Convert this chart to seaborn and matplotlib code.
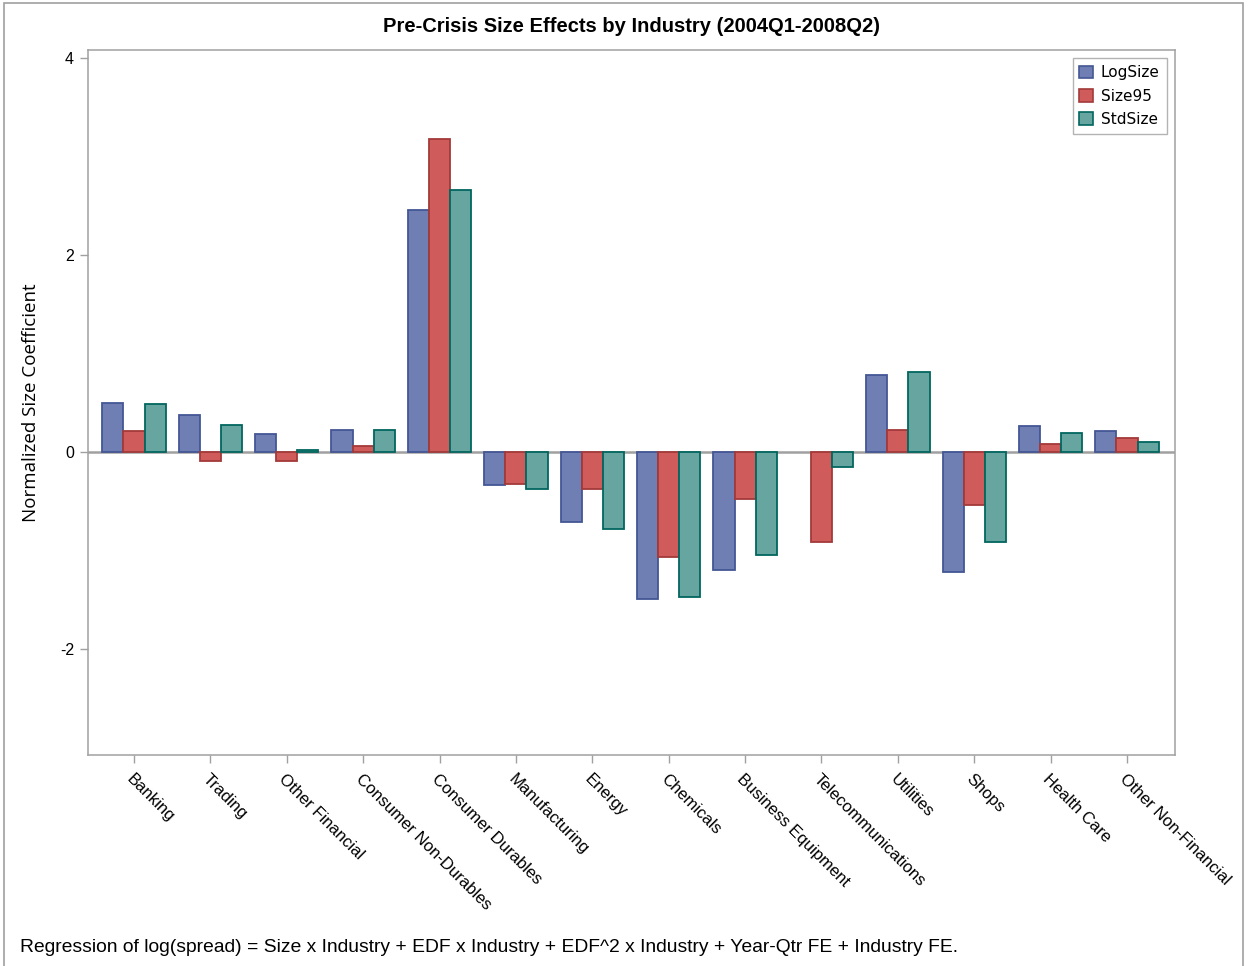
import numpy as np
import pandas as pd
import matplotlib
matplotlib.use("Agg")
import matplotlib.pyplot as plt
from matplotlib.patches import Patch, Rectangle
import seaborn as sns

# Industry size coefficients, 2004Q1-2008Q2
industries = ["Banking", "Trading", "Other Financial", "Consumer Non-Durables",
              "Consumer Durables", "Manufacturing", "Energy", "Chemicals",
              "Business Equipment", "Telecommunications", "Utilities", "Shops",
              "Health Care", "Other Non-Financial"]
log_size = [0.50, 0.37, 0.18, 0.22, 2.46, -0.34, -0.71, -1.50, -1.20, np.nan,
            0.78, -1.22, 0.26, 0.21]
size95 = [0.21, -0.09, -0.09, 0.06, 3.18, -0.33, -0.38, -1.07, -0.48, -0.92,
          0.22, -0.54, 0.08, 0.14]
std_size = [0.48, 0.27, 0.015, 0.22, 2.66, -0.38, -0.78, -1.48, -1.05, -0.15,
            0.81, -0.92, 0.19, 0.10]
series = ["LogSize", "Size95", "StdSize"]
y_ticks = [-2, 0, 2, 4]

fill_colors = ["#6F7EB3", "#D05B5B", "#66A5A0"]
edge_colors = ["#445694", "#A23A39", "#01665E"]
frame_gray = "#A0A0A0"

df = pd.DataFrame({"Industry": industries, "LogSize": log_size,
                   "Size95": size95, "StdSize": std_size})
long_df = df.melt(id_vars="Industry", var_name="Series", value_name="Coef").dropna()

sns.set_theme(style="white")
plt.rcParams["font.family"] = ["Liberation Sans", "DejaVu Sans"]
plt.rcParams["text.color"] = "black"
plt.rcParams["axes.labelcolor"] = "black"
plt.rcParams["xtick.color"] = "black"
plt.rcParams["ytick.color"] = "black"

W, H = 1248, 966
fig = plt.figure(figsize=(W / 100, H / 100), dpi=100)
ax = fig.add_axes([88 / W, 1 - 755 / H, (1175 - 88) / W, (755 - 50) / H])

sns.barplot(data=long_df, x="Industry", y="Coef", hue="Series",
            order=industries, hue_order=series, palette=fill_colors,
            saturation=1, width=0.83, errorbar=None, linewidth=1.3,
            zorder=3, ax=ax)
for cont, ec in zip(ax.containers, edge_colors):
    for bar in cont:
        bar.set_edgecolor(ec)

ax.axhline(0, color=frame_gray, lw=1.8, zorder=2)

ax.set_xlim(-0.602, 13.628)
ax.set_ylim(-3.08, 4.08)
ax.set_yticks(y_ticks)
ax.set_yticklabels([str(t) for t in y_ticks])

for sp in ax.spines.values():
    sp.set_visible(True)
    sp.set_color(frame_gray)
    sp.set_linewidth(1.1)

ax.tick_params(axis="both", which="major", direction="out", length=5.8,
               width=1.0, color=frame_gray, labelcolor="black")
ax.tick_params(axis="y", labelsize=11.5, pad=4.3, left=True)
ax.tick_params(axis="x", labelsize=12, pad=6, bottom=True)
plt.setp(ax.get_xticklabels(), rotation=-45, ha="left", va="top",
         rotation_mode="anchor")

ax.set_xlabel("")
ax.set_ylabel("Normalized Size Coefficient", fontsize=13.5, color="black",
              family=["Open Sans", "DejaVu Sans"])
ax.yaxis.set_label_coords((40 - 88) / (1175 - 88), 0.5)

handles = [Patch(facecolor=fc, edgecolor=ec, linewidth=1.2)
           for fc, ec in zip(fill_colors, edge_colors)]
leg = ax.legend(handles, series, loc="upper right",
                prop={"family": ["DejaVu Sans"], "size": 11},
                handlelength=0.9, handleheight=0.9, handletextpad=0.5,
                labelspacing=0.55, borderpad=0.45, borderaxespad=0.55,
                frameon=True, fancybox=False)
leg.get_frame().set_edgecolor(frame_gray)
leg.get_frame().set_linewidth(1.0)
for t in leg.get_texts():
    t.set_color("black")

fig.text(631.5 / W, 1 - 27 / H,
         "Pre-Crisis Size Effects by Industry (2004Q1-2008Q2)",
         ha="center", va="center", fontsize=14.5, fontweight="bold",
         color="black")

fig.text(20 / W, 1 - 947 / H,
         "Regression of log(spread) = Size x Industry + EDF x Industry + "
         "EDF^2 x Industry + Year-Qtr FE + Industry FE.",
         ha="left", va="center", fontsize=13.9, color="black")

fig.patches.append(Rectangle((4 / W, -0.05), (1243 - 4) / W, 1 - 3 / H + 0.05,
                             transform=fig.transFigure, fill=False,
                             edgecolor=frame_gray, linewidth=1.2))

fig.savefig("out.png", dpi=100)
